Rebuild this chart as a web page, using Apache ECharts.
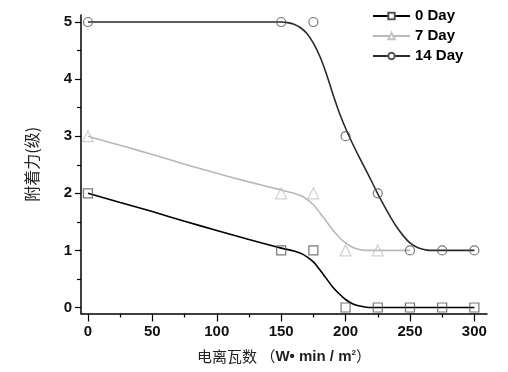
<!DOCTYPE html>
<html>
<head>
<meta charset="utf-8">
<script src="https://cdn.jsdelivr.net/npm/echarts@6/dist/echarts.min.js"></script>
<style>
html,body{margin:0;padding:0;background:#fff;}
#chart{width:508px;height:372px;}
</style>
</head>
<body>
<div id="chart"></div>
<script>
// measured points
const xValues = [0, 150, 175, 200, 225, 250, 275, 300];
const day0 = [2, 1, 1, 0, 0, 0, 0, 0];
const day7 = [3, 2, 2, 1, 1, null, null, null];
const day14 = [5, 5, 5, 3, 2, 1, 1, 1];

// fitted curves
const fitX0 = [0, 25, 50, 75, 100, 125, 150, 160, 167, 175, 180, 185, 190, 195, 200, 205, 210, 215, 220, 250, 300];
const fit0 = [2.0, 1.84, 1.68, 1.51, 1.35, 1.19, 1.04, 0.99, 0.93, 0.80, 0.66, 0.51, 0.36, 0.24, 0.14, 0.07, 0.03, 0.01, 0, 0, 0];
const fitX7 = [0, 25, 50, 75, 100, 125, 150, 160, 167, 175, 180, 185, 190, 195, 200, 205, 210, 215, 220, 250];
const fit7 = [3.0, 2.84, 2.68, 2.51, 2.35, 2.2, 2.06, 2.0, 1.94, 1.80, 1.66, 1.51, 1.36, 1.23, 1.13, 1.06, 1.02, 1.0, 1.0, 1.0];
const fitX14 = [0, 50, 100, 150, 155, 160, 165, 170, 175, 180, 185, 190, 195, 200, 205, 210, 215, 220, 225, 230, 235, 240, 245, 250, 255, 260, 265, 270, 285, 300];
const fit14 = [5, 5, 5, 5, 4.99, 4.96, 4.9, 4.8, 4.63, 4.4, 4.1, 3.75, 3.42, 3.14, 2.89, 2.66, 2.44, 2.22, 1.99, 1.78, 1.58, 1.40, 1.25, 1.13, 1.06, 1.02, 1.0, 1.0, 1.0, 1.0];

const xMajor = [0, 50, 100, 150, 200, 250, 300];
const xMinor = [25, 75, 125, 175, 225, 275];
const yMajor = [0, 1, 2, 3, 4, 5];
const yMinor = [0.5, 1.5, 2.5, 3.5, 4.5];

const seriesNames = ['0 Day', '7 Day', '14 Day'];
const lineColors = ['#000000', '#b8b8b8', '#2a2a2a'];
const markColors = ['#555555', '#c4c4c4', '#555555'];
const symbols = ['rect', 'triangle', 'circle'];

const zip = (xs, ys) => xs.map((x, i) => [x, ys[i]]).filter(p => p[1] !== null);
const fits = [zip(fitX0, fit0), zip(fitX7, fit7), zip(fitX14, fit14)];
const pts = [zip(xValues, day0), zip(xValues, day7), zip(xValues, day14)];

const XMIN = -5.4, XMAX = 309.8, YMIN = -0.105, YMAX = 5.123;
const tickFont = {fontFamily: 'Liberation Sans', fontWeight: 'bold', fontSize: 15, color: '#111'};

const chart = echarts.init(document.getElementById('chart'));
const series = [];
[1, 0, 2].forEach(i => {
  series.push({
    name: seriesNames[i], type: 'line', data: fits[i],
    xAxisIndex: 0, yAxisIndex: 0,
    smooth: 0.3,
    symbol: symbols[i], symbolSize: 6, showSymbol: false,
    lineStyle: {color: lineColors[i], width: 1.6},
    itemStyle: {color: '#fff', borderColor: markColors[i], borderWidth: 1},
    z: 2, silent: true
  });
});
[1, 0, 2].forEach(i => {
  series.push({
    name: seriesNames[i] + ' pts', type: 'scatter', data: pts[i],
    xAxisIndex: 0, yAxisIndex: 0,
    symbol: symbols[i], symbolSize: i === 1 ? 11 : 9,
    itemStyle: {color: 'rgba(255,255,255,0)', borderColor: markColors[i], borderWidth: 1.2},
    z: 3, silent: true
  });
});

chart.setOption({
  animation: false,
  backgroundColor: '#fff',
  grid: {left: 81, right: 21, top: 15, bottom: 58.5},
  legend: {
    data: seriesNames, orient: 'vertical', left: 372, top: 7, padding: 0,
    itemWidth: 37, itemHeight: 8, itemGap: 2,
    textStyle: {fontFamily: 'Liberation Sans', fontWeight: 'bold', fontSize: 15, color: '#000', lineHeight: 18}
  },
  xAxis: [{
    type: 'value', min: XMIN, max: XMAX, position: 'bottom',
    axisLine: {show: true, onZero: false, lineStyle: {color: '#000', width: 1.5}},
    axisTick: {show: true, customValues: xMajor, length: 8, lineStyle: {color: '#000', width: 1.2}},
    axisLabel: {show: true, customValues: xMajor, margin: 11, ...tickFont},
    splitLine: {show: false},
    name: '{a|电离瓦数 （}{b|W• min / m}{c|2}{a|）}',
    nameLocation: 'middle', nameGap: 35,
    nameTextStyle: {
      rich: {
        a: {fontFamily: 'Noto Sans CJK SC', fontSize: 15, color: '#222'},
        b: {fontFamily: 'Liberation Sans', fontWeight: 'bold', fontSize: 15, color: '#222'},
        c: {fontFamily: 'Liberation Sans', fontWeight: 'bold', fontSize: 8, color: '#222', verticalAlign: 'top', padding: [0, 0, 8, 0]}
      }
    }
  }, {
    type: 'value', min: XMIN, max: XMAX, position: 'bottom',
    axisLine: {show: false, onZero: false},
    axisTick: {show: true, customValues: xMinor, length: 4, lineStyle: {color: '#000', width: 1.2}},
    axisLabel: {show: false},
    splitLine: {show: false}
  }],
  yAxis: [{
    type: 'value', min: YMIN, max: YMAX, position: 'left',
    axisLine: {show: true, onZero: false, lineStyle: {color: '#000', width: 1.5}},
    axisTick: {show: true, customValues: yMajor, length: 6, lineStyle: {color: '#000', width: 1.2}},
    axisLabel: {show: true, customValues: yMajor, margin: 9, ...tickFont},
    splitLine: {show: false},
    name: '附着力(级)', nameLocation: 'middle', nameGap: 41, nameRotate: 90,
    nameTextStyle: {fontFamily: 'Noto Sans CJK SC', fontSize: 16, color: '#222'}
  }, {
    type: 'value', min: YMIN, max: YMAX, position: 'left',
    axisLine: {show: false, onZero: false},
    axisTick: {show: true, customValues: yMinor, length: 4, lineStyle: {color: '#000', width: 1.2}},
    axisLabel: {show: false},
    splitLine: {show: false}
  }],
  series: series
});
</script>
</body>
</html>
